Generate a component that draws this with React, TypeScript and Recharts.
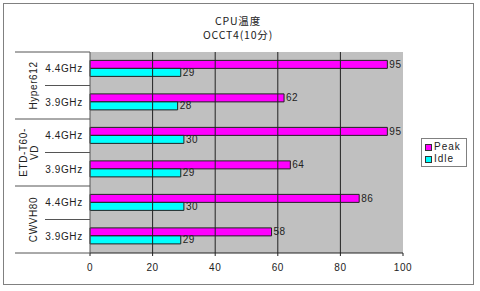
import {
  BarChart,
  Bar,
  XAxis,
  YAxis,
  CartesianGrid,
  ReferenceLine,
  LabelList,
  Legend,
} from "recharts";

const speeds = ["4.4GHz", "3.9GHz", "4.4GHz", "3.9GHz", "4.4GHz", "3.9GHz"];
const coolers = [["Hyper612"], ["ETD-T60-", "VD"], ["CWVH80"]];
const peakValues = [95, 62, 95, 64, 86, 58];
const idleValues = [29, 28, 30, 29, 30, 29];
const xTicks = [0, 20, 40, 60, 80, 100];
const gridValues = [20, 40, 60, 80];
const titleLines = ["CPU温度", "OCCT4(10分)"];

const data = speeds.map((speed, i) => ({
  key: `${i}`,
  speed,
  Peak: peakValues[i],
  Idle: idleValues[i],
}));

const FONT = "'Liberation Sans', Arial, sans-serif";
const CJK = "'Noto Sans CJK JP', 'Liberation Sans', sans-serif";
const PLOT_TOP = 52;
const PLOT_BOTTOM = 253;
const ROW_H = (PLOT_BOTTOM - PLOT_TOP) / speeds.length;

// two level category labels: speed next to the axis, cooler name rotated
function CategoryTick(props: any) {
  const { x, y, index } = props;
  const i = Number(index);
  const lineColor = "#555";
  const bottom = y + ROW_H / 2;
  const isGroupEnd = i % 2 === 1;
  const parts: any[] = [];

  if (i === 0) {
    parts.push(
      <line key="top" x1={x - 75} x2={x} y1={y - ROW_H / 2} y2={y - ROW_H / 2} stroke={lineColor} />
    );
  }
  parts.push(
    <line
      key="sep"
      x1={isGroupEnd ? x - 75 : x - 45}
      x2={x}
      y1={bottom}
      y2={bottom}
      stroke={lineColor}
    />
  );
  parts.push(
    <text
      key="speed"
      x={x - 26}
      y={y}
      textAnchor="middle"
      dominantBaseline="central"
      fontSize={10}
      fontFamily={FONT}
      letterSpacing={0.6}
      fill="#222"
    >
      {speeds[i]}
    </text>
  );
  if (!isGroupEnd) {
    const lines = coolers[i / 2];
    const cx = x - 57 - (lines.length - 1) * 10;
    const cy = bottom;
    parts.push(
      <text
        key="group"
        x={cx}
        y={cy}
        transform={`rotate(-90 ${cx} ${cy})`}
        textAnchor="middle"
        dominantBaseline="central"
        fontSize={10}
        fontFamily={FONT}
        letterSpacing={0.6}
        fill="#222"
      >
        {lines.map((t, k) => (
          <tspan key={k} x={cx} dy={k === 0 ? 0 : 10.5}>
            {t}
          </tspan>
        ))}
      </text>
    );
  }
  return <g>{parts}</g>;
}

function LegendBox() {
  const items = [
    { name: "Peak", color: "#ff00ff" },
    { name: "Idle", color: "#00ffff" },
  ];
  return (
    <div
      style={{
        width: 46,
        height: 29,
        boxSizing: "border-box",
        border: "1px solid #808080",
        background: "#fff",
        padding: "2px 0 0 3px",
        fontFamily: FONT,
        fontSize: 10,
        letterSpacing: 1,
        lineHeight: "12px",
        color: "#222",
      }}
    >
      {items.map((it) => (
        <div key={it.name} style={{ display: "flex", alignItems: "center", height: 12 }}>
          <span
            style={{
              display: "inline-block",
              width: 5,
              height: 5,
              background: it.color,
              border: "1px solid #333",
              marginRight: 2,
            }}
          />
          {it.name}
        </div>
      ))}
    </div>
  );
}

export default function App() {
  return (
    <div
      style={{
        position: "absolute",
        left: 0,
        top: 0,
        width: 480,
        height: 291,
        background: "#fff",
      }}
    >
      <div
        style={{
          position: "absolute",
          left: 3,
          top: 3,
          width: 471,
          height: 282,
          boxSizing: "border-box",
          border: "1px solid #808080",
        }}
      />
      {titleLines.map((t, k) => (
        <div
          key={k}
          style={{
            position: "absolute",
            left: 0,
            top: 15 + k * 14,
            width: 476,
            height: 12,
            textAlign: "center",
            fontFamily: CJK,
            fontSize: 10.5,
            lineHeight: "12px",
            letterSpacing: 0.8,
            color: "#222",
          }}
        >
          {t}
        </div>
      ))}
      <BarChart
        width={480}
        height={291}
        data={data}
        layout="vertical"
        margin={{ top: PLOT_TOP, right: 77, bottom: 8, left: 15 }}
        barCategoryGap="25%"
        barGap={0}
        style={{ position: "absolute", left: 0, top: 0 }}
      >
        <CartesianGrid fill="#c0c0c0" vertical={false} horizontal={false} />
        {gridValues.map((v) => (
          <ReferenceLine key={v} x={v} stroke="#222" strokeWidth={1} />
        ))}
        <XAxis
          type="number"
          domain={[0, 100]}
          ticks={xTicks}
          height={30}
          stroke="#222"
          tickSize={3}
          tickMargin={8}
          tick={{ fontSize: 10, fontFamily: FONT, fill: "#222", letterSpacing: 0.6 }}
        />
        <YAxis
          type="category"
          dataKey="key"
          width={75}
          tickSize={0}
          tickMargin={0}
          tickLine={false}
          stroke="#555"
          tick={<CategoryTick />}
          interval={0}
        />
        <Legend
          layout="vertical"
          align="center"
          verticalAlign="middle"
          content={() => <LegendBox />}
          wrapperStyle={{ left: 421, top: 138, width: 46, height: 29 }}
        />
        <Bar dataKey="Peak" fill="#ff00ff" stroke="#222" strokeWidth={1} isAnimationActive={false}>
          <LabelList dataKey="Peak" position="right" offset={2} fontSize={10} fontFamily={FONT} fill="#222" letterSpacing={0.5} />
        </Bar>
        <Bar dataKey="Idle" fill="#00ffff" stroke="#222" strokeWidth={1} isAnimationActive={false}>
          <LabelList dataKey="Idle" position="right" offset={2} fontSize={10} fontFamily={FONT} fill="#222" letterSpacing={0.5} />
        </Bar>
      </BarChart>
    </div>
  );
}
